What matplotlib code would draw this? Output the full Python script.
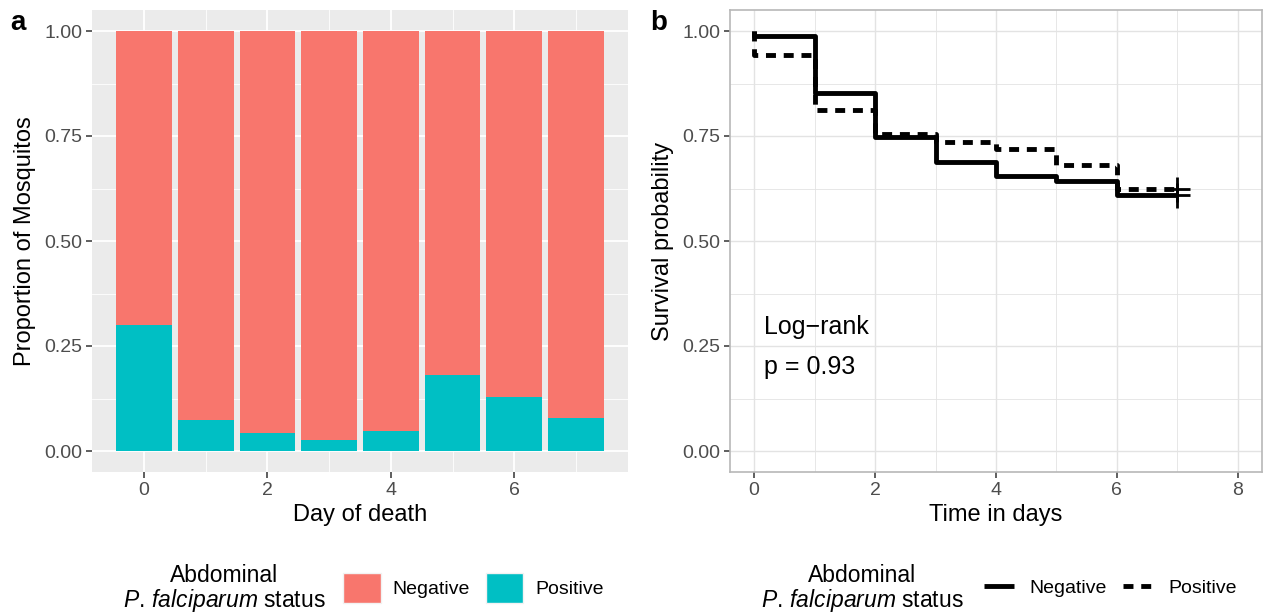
import matplotlib
matplotlib.use("Agg")
import matplotlib.pyplot as plt
from matplotlib.patches import Patch
from matplotlib.lines import Line2D
from matplotlib.ticker import MultipleLocator

plt.rcParams['font.family'] = ['Liberation Sans', 'DejaVu Sans']
plt.rcParams['mathtext.fontset'] = 'custom'
plt.rcParams['mathtext.rm'] = 'Liberation Sans'
plt.rcParams['mathtext.it'] = 'Liberation Sans:italic'

# ---- data ----
days = [0, 1, 2, 3, 4, 5, 6, 7]
positive_prop = [0.299, 0.074, 0.044, 0.026, 0.048, 0.182, 0.129, 0.079]
negative_prop = [1 - p for p in positive_prop]

km_times = [0, 0, 1, 2, 3, 4, 5, 6, 7]
surv_negative = [1.0, 0.989, 0.852, 0.748, 0.689, 0.655, 0.644, 0.610, 0.610]
surv_positive = [1.0, 0.944, 0.811, 0.755, 0.736, 0.718, 0.680, 0.623, 0.623]
censor_time = 7
yticks = [0.0, 0.25, 0.5, 0.75, 1.0]
ytick_labels = ["0.00", "0.25", "0.50", "0.75", "1.00"]
group_labels = ['Negative', 'Positive']

NEG_COL = '#F8766D'
POS_COL = '#00BFC4'
TICK_COL = '#4D4D4D'
LW = 3.5
DASH = (0, (2.05, 1.6))
TICKFS = 14

fig = plt.figure(figsize=(12.64, 6.13), dpi=100)


def style_ticks(ax):
    ax.tick_params(which='major', length=4, width=1.1, color='#333333', labelsize=TICKFS,
                   labelcolor=TICK_COL, pad=3)
    ax.tick_params(which='minor', length=0)


# ---------- panel a ----------
axa = fig.add_axes([92/1264, 1 - 472/613, 536/1264, 462/613])
axa.set_facecolor('#EBEBEB')
axa.bar(days, positive_prop, width=0.9, color=POS_COL, zorder=3)
axa.bar(days, negative_prop, width=0.9, bottom=positive_prop, color=NEG_COL, zorder=3)
axa.set_xlim(-0.845, 7.845)
axa.set_ylim(-0.05, 1.05)
axa.set_xticks([0, 2, 4, 6])
axa.xaxis.set_minor_locator(MultipleLocator(1))
axa.set_yticks(yticks)
axa.set_yticklabels(ytick_labels)
axa.yaxis.set_minor_locator(MultipleLocator(0.125))
axa.grid(which='major', color='white', lw=1.3, zorder=0)
axa.grid(which='minor', color='white', lw=0.6, zorder=0)
axa.set_axisbelow(True)
for s in axa.spines.values():
    s.set_visible(False)
style_ticks(axa)
axa.set_xlabel('Day of death', fontsize=17, labelpad=4)
axa.set_ylabel('Proportion of Mosquitos', fontsize=17, labelpad=6)

# ---------- panel b ----------
axb = fig.add_axes([730/1264, 1 - 472/613, 532/1264, 462/613])
axb.set_facecolor('white')
axb.step(km_times, surv_negative, where='post', color='black', lw=LW, solid_capstyle='butt', zorder=3)
axb.step(km_times, surv_positive, where='post', color='black', lw=LW,
         linestyle=DASH, dash_capstyle='butt', zorder=3)
axb.plot([censor_time, censor_time], [surv_negative[-1], surv_positive[-1]], ls='none',
         marker='+', ms=18, mew=2, color='black', zorder=4)
axb.set_xlim(-0.4, 8.4)
axb.set_ylim(-0.05, 1.05)
axb.set_xticks([0, 2, 4, 6, 8])
axb.xaxis.set_minor_locator(MultipleLocator(1))
axb.set_yticks(yticks)
axb.set_yticklabels(ytick_labels)
axb.yaxis.set_minor_locator(MultipleLocator(0.125))
axb.grid(which='major', color='#E3E3E3', lw=1.0, zorder=0)
axb.grid(which='minor', color='#E3E3E3', lw=0.6, zorder=0)
axb.set_axisbelow(True)
for s in axb.spines.values():
    s.set_color('#B8B8B8')
    s.set_linewidth(1.2)
style_ticks(axb)
axb.set_xlabel('Time in days', fontsize=17, labelpad=4)
axb.set_ylabel('Survival probability', fontsize=17, labelpad=6)
axb.text(0.17, 0.296, 'Log\u2212rank', fontsize=18, va='center', ha='left')
axb.text(0.17, 0.20, 'p = 0.93', fontsize=18, va='center', ha='left')

# panel labels
fig.text(10/1264, 1 - 23/613, 'a', fontsize=20, fontweight='bold', va='center', ha='left')
fig.text(650/1264, 1 - 23/613, 'b', fontsize=20, fontweight='bold', va='center', ha='left')

# ---------- legends ----------
legend_title = 'Abdominal\n$\\mathit{P.\\,falciparum}$ status'
for cx in (224, 862):
    fig.text(cx/1264, 1 - 589/613, legend_title, fontsize=16.5, ha='center', va='center',
             multialignment='center', linespacing=1.05)

bar_handles = [Patch(facecolor=NEG_COL, edgecolor='#F2F2F2', lw=1),
               Patch(facecolor=POS_COL, edgecolor='#F2F2F2', lw=1)]
fig.legend(bar_handles, group_labels, ncol=2, loc='center left',
           bbox_to_anchor=(343/1264, 1 - 588/613), frameon=False, fontsize=14,
           handlelength=1.95, handleheight=1.95, handletextpad=0.6, columnspacing=0.8,
           borderaxespad=0, borderpad=0)

line_handles = [Line2D([0], [0], color='black', lw=LW, solid_capstyle='butt'),
                Line2D([0], [0], color='black', lw=LW, linestyle=DASH, dash_capstyle='butt')]
fig.legend(line_handles, group_labels, ncol=2, loc='center left',
           bbox_to_anchor=(984/1264, 1 - 588/613), frameon=False, fontsize=14,
           handlelength=1.55, handletextpad=0.8, columnspacing=0.8,
           borderaxespad=0, borderpad=0)

fig.savefig('out.png', dpi=100)
